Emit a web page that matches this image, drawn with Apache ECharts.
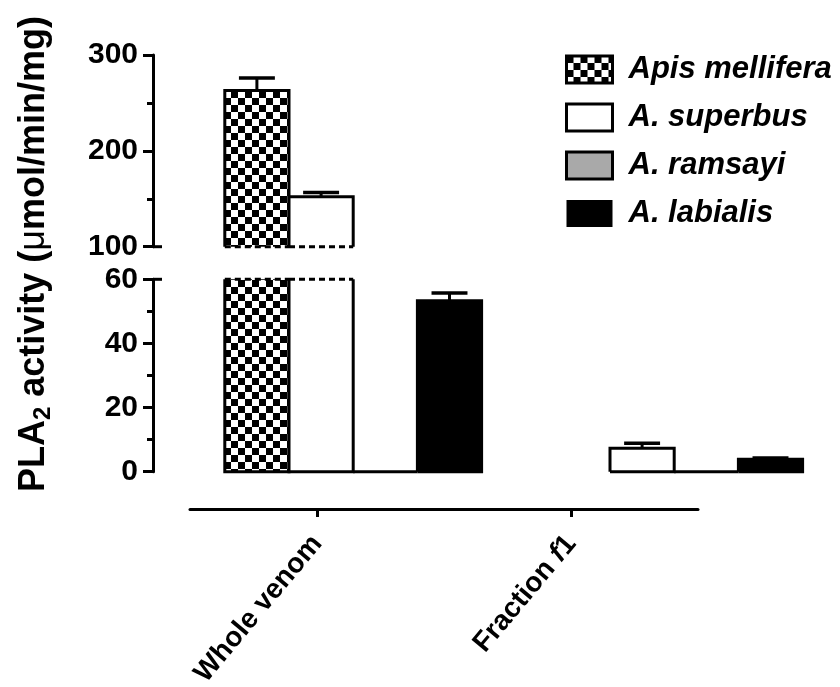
<!DOCTYPE html>
<html><head><meta charset="utf-8">
<script src="https://cdn.jsdelivr.net/npm/echarts@6/dist/echarts.min.js"></script>
<style>html,body{margin:0;padding:0;background:#fff}#c{width:840px;height:687px}</style>
</head><body><div id="c"></div>
<script>
// ---- data ----
const categories = ['Whole venom', 'Fraction f1'];
const seriesNames = ['Apis mellifera', 'A. superbus', 'A. ramsayi', 'A. labialis'];
const apisValues = [263, null];
const apisErrors = [13, null];
const superbusValues = [152, 7.3];
const superbusErrors = [4.5, 1.6];
const ramsayiValues = [0, 0];
const ramsayiErrors = [0, 0];
const labialisValues = [53.3, 3.9];
const labialisErrors = [2.4, 0.4];
const upperTicks = [100, 200, 300];
const lowerTicks = [0, 20, 40, 60];

const allValues = [apisValues, superbusValues, ramsayiValues, labialisValues];
const allErrors = [apisErrors, superbusErrors, ramsayiErrors, labialisErrors];

const FONT = '"Liberation Sans", Arial, Helvetica, sans-serif';

// checkerboard pattern
const pc = document.createElement('canvas');
pc.width = 14; pc.height = 14;
const pctx = pc.getContext('2d');
pctx.fillStyle = '#fff'; pctx.fillRect(0, 0, 14, 14);
pctx.fillStyle = '#000'; pctx.fillRect(0, 0, 7, 7); pctx.fillRect(7, 7, 7, 7);
const checker = { image: pc, repeat: 'repeat' };
const fills = [checker, '#ffffff', '#a9a9a9', '#000000'];

const segments = [
  { grid: 0, min: upperTicks[0], max: upperTicks[upperTicks.length - 1], interval: upperTicks[1] - upperTicks[0], upper: true },
  { grid: 1, min: lowerTicks[0], max: lowerTicks[lowerTicks.length - 1], interval: lowerTicks[1] - lowerTicks[0], upper: false }
];

function makeRender(si, seg) {
  return function (params, api) {
    const cat = api.value(0), v = api.value(1), e = api.value(2);
    if (isNaN(v)) return null;
    const lo = seg.min, hi = seg.max;
    if (seg.upper && v <= lo) return null;
    const band = api.size([1, 0])[0];
    const bw = band * 0.2;
    const cx = api.coord([cat, lo])[0];
    const x0 = cx - 2 * bw + si * bw, x1 = x0 + bw;
    const top = Math.min(v, hi);
    const yb = api.coord([cat, lo])[1];
    const yt = api.coord([cat, top])[1];
    const dashedBottom = seg.upper;
    const dashedTop = v > hi;
    const children = [];
    children.push({ type: 'rect', shape: { x: x0, y: yt, width: bw, height: yb - yt }, style: { fill: fills[si] } });
    let pts;
    if (dashedBottom) pts = [[x0, yb], [x0, yt], [x1, yt], [x1, yb]];
    else if (dashedTop) pts = [[x0, yt], [x0, yb], [x1, yb], [x1, yt]];
    else pts = [[x0, yb], [x0, yt], [x1, yt], [x1, yb], [x0, yb]];
    children.push({ type: 'polyline', shape: { points: pts }, style: { stroke: '#000', lineWidth: 3, fill: 'none' } });
    if (dashedBottom) children.push({ type: 'line', shape: { x1: x0, y1: yb, x2: x1, y2: yb }, style: { stroke: '#000', lineWidth: 3, lineDash: [6, 4] } });
    if (dashedTop) children.push({ type: 'line', shape: { x1: x0, y1: yt, x2: x1, y2: yt }, style: { stroke: '#000', lineWidth: 3, lineDash: [6, 4] } });
    if (!dashedTop && e > 0) {
      const ye = api.coord([cat, v + e])[1];
      const mx = (x0 + x1) / 2, cw = bw * 0.28;
      children.push({ type: 'line', shape: { x1: mx, y1: yt, x2: mx, y2: ye }, style: { stroke: '#000', lineWidth: 3 } });
      children.push({ type: 'line', shape: { x1: mx - cw, y1: ye, x2: mx + cw, y2: ye }, style: { stroke: '#000', lineWidth: 3.5 } });
    }
    return { type: 'group', children };
  };
}

const series = [];
segments.forEach(seg => {
  seriesNames.forEach((name, si) => {
    series.push({
      type: 'custom', name, xAxisIndex: seg.grid, yAxisIndex: seg.grid,
      renderItem: makeRender(si, seg),
      encode: { x: 0, y: 1 },
      itemStyle: { color: si === 0 ? '#555' : fills[si] },
      data: categories.map((c, k) => [k, allValues[si][k], allErrors[si][k]])
    });
  });
});

const GRID_LEFT = 192.7, GRID_W = 642, AXIS_X = 153;

function yAxisFor(seg) {
  return {
    type: 'value', gridIndex: seg.grid, min: seg.min, max: seg.max, interval: seg.interval,
    offset: GRID_LEFT - AXIS_X,
    axisLine: { show: true, lineStyle: { color: '#000', width: 3 } },
    axisTick: { show: true, length: 10, lineStyle: { color: '#000', width: 3 } },
    minorTick: { show: true, splitNumber: 2, length: 6, lineStyle: { color: '#000', width: 3 } },
    splitLine: { show: false }, minorSplitLine: { show: false },
    axisLabel: { fontSize: 30, fontWeight: 'bold', color: '#000', margin: 15, fontFamily: FONT }
  };
}

const chart = echarts.init(document.getElementById('c'));
const option = {
  animation: false,
  backgroundColor: '#fff',
  grid: [
    { left: GRID_LEFT, width: GRID_W, top: 55, height: 191.7, outerBoundsMode: 'none', containLabel: false },
    { left: GRID_LEFT, width: GRID_W, top: 279.3, height: 192.4, outerBoundsMode: 'none', containLabel: false },
    { left: 190, width: 508, top: 450, height: 59, outerBoundsMode: 'none', containLabel: false }
  ],
  xAxis: [
    { type: 'category', gridIndex: 0, data: categories, show: false },
    { type: 'category', gridIndex: 1, data: categories, show: false },
    {
      type: 'category', gridIndex: 2, data: categories,
      axisLine: { show: true, lineStyle: { color: '#000', width: 3 } },
      axisTick: { show: true, interval: 0, alignWithLabel: true, length: 8, lineStyle: { color: '#000', width: 3 } },
      axisLabel: {
        rotate: 50, margin: 30, color: '#000', interval: 0,
        formatter: v => v === 'Fraction f1' ? '{n|Fraction }{i|f}{n|1}' : '{n|' + v + '}',
        rich: {
          n: { fontSize: 28, fontWeight: 'bold', fontFamily: FONT, color: '#000' },
          i: { fontSize: 28, fontWeight: 'bold', fontStyle: 'italic', fontFamily: FONT, color: '#000' }
        }
      }
    }
  ],
  yAxis: [
    yAxisFor(segments[0]),
    yAxisFor(segments[1]),
    { type: 'value', gridIndex: 2, show: false, min: 0, max: 1 }
  ],
  legend: {
    orient: 'vertical', left: 565, top: 54, padding: 0,
    itemWidth: 46, itemHeight: 27, itemGap: 17, icon: 'rect',
    selectedMode: false,
    textStyle: { fontSize: 31, fontWeight: 'bold', fontStyle: 'italic', fontFamily: FONT, color: '#000', padding: [0, 0, 0, 11] },
    data: seriesNames.map((n, si) => ({
      name: n, icon: 'rect',
      itemStyle: { color: fills[si], borderColor: '#000', borderWidth: si === 3 ? 0 : 3 }
    }))
  },
  series
};
chart.setOption(option);

// break caps on y axis + axis title
const yUpperBreak = chart.convertToPixel({ yAxisIndex: 0 }, segments[0].min);
const yLowerBreak = chart.convertToPixel({ yAxisIndex: 1 }, segments[1].max);
chart.setOption({
  graphic: [
    { type: 'line', shape: { x1: AXIS_X, y1: yUpperBreak, x2: AXIS_X + 9, y2: yUpperBreak }, style: { stroke: '#000', lineWidth: 3 } },
    { type: 'line', shape: { x1: AXIS_X, y1: yLowerBreak, x2: AXIS_X + 9, y2: yLowerBreak }, style: { stroke: '#000', lineWidth: 3 } },
    {
      type: 'text', x: 34, y: 254, rotation: Math.PI / 2,
      style: {
        text: '{b|PLA}{s|2}{b| activity (}{m|μ}{b|mol/min/mg)}',
        align: 'center', verticalAlign: 'middle',
        rich: {
          b: { fontSize: 36, fontWeight: 'bold', fontFamily: FONT, fill: '#000', lineHeight: 42 },
          s: { fontSize: 24, fontWeight: 'bold', fontFamily: FONT, fill: '#000', lineHeight: 42, verticalAlign: 'bottom' },
          m: { fontSize: 36, fontWeight: 'normal', fontFamily: FONT, fill: '#000', lineHeight: 42 }
        }
      }
    }
  ]
});
</script></body></html>
